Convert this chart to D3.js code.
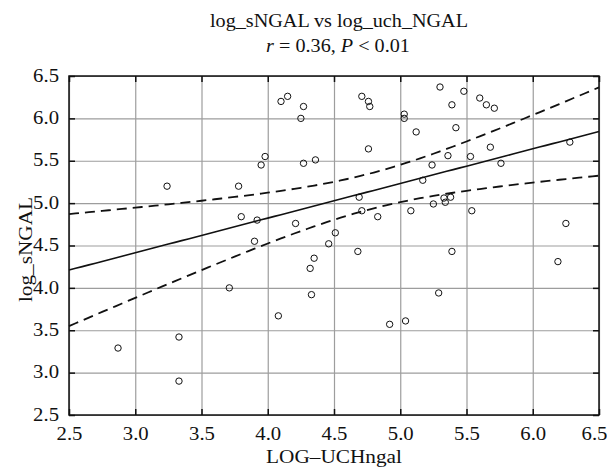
<!DOCTYPE html>
<html>
<head>
<meta charset="utf-8">
<script src="https://cdn.jsdelivr.net/npm/d3@7"></script>
<style>
  body { margin: 0; background: #fff; }
  svg { display: block; }
  text { font-family: "Liberation Serif", "DejaVu Serif", serif; fill: #111; }
</style>
</head>
<body>
<svg id="chart" width="607" height="468"></svg>
<script>
// values
var titleLines = ['log_sNGAL vs log_uch_NGAL', 'r = 0.36, P < 0.01'];
var xLabel = 'LOG\u2013UCHngal';
var yLabel = 'log_sNGAL';
var xTicks = [2.5, 3.0, 3.5, 4.0, 4.5, 5.0, 5.5, 6.0, 6.5];
var yTicks = [2.5, 3.0, 3.5, 4.0, 4.5, 5.0, 5.5, 6.0, 6.5];

// log_uch_NGAL (x) and log_sNGAL (y) of each subject
var xVals = [2.87, 3.24, 3.33, 3.33, 3.71, 3.78, 3.80, 3.90, 3.92, 3.95,
             3.98, 4.08, 4.10, 4.15, 4.21, 4.25, 4.27, 4.27, 4.32, 4.35,
             4.33, 4.36, 4.46, 4.51, 4.68, 4.69, 4.71, 4.71, 4.76, 4.77,
             4.76, 4.83, 4.92, 5.03, 5.03, 5.04, 5.08, 5.12, 5.17, 5.24,
             5.25, 5.29, 5.30, 5.33, 5.34, 5.36, 5.38, 5.39, 5.39, 5.42,
             5.48, 5.53, 5.54, 5.60, 5.65, 5.68, 5.71, 5.76, 6.19, 6.25,
             6.28];
var yVals = [3.29, 5.20, 3.42, 2.90, 4.00, 5.20, 4.84, 4.55, 4.80, 5.45,
             5.55, 3.67, 6.20, 6.26, 4.76, 6.00, 6.14, 5.47, 4.23, 4.35,
             3.92, 5.51, 4.52, 4.65, 4.43, 5.07, 6.26, 4.91, 6.20, 6.14,
             5.64, 4.84, 3.57, 6.05, 6.00, 3.61, 4.91, 5.84, 5.27, 5.45,
             4.99, 3.94, 6.37, 5.06, 5.01, 5.56, 5.07, 6.16, 4.43, 5.89,
             6.32, 5.55, 4.91, 6.24, 6.16, 5.66, 6.12, 5.47, 4.31, 4.76,
             5.72];

// fitted line as drawn in the picture: value at x = 2.5 and at x = 6.5
var fitEnds = [4.21, 5.845];

var svg = d3.select('#chart');
var margin = {top: 76, right: 8, bottom: 53, left: 69};
var width = 607 - margin.left - margin.right;
var height = 468 - margin.top - margin.bottom;

var x = d3.scaleLinear().domain([2.5, 6.5]).range([0, width]);
var y = d3.scaleLinear().domain([2.5, 6.5]).range([height, 0]);

var g = svg.append('g').attr('transform', 'translate(' + margin.left + ',' + margin.top + ')');

// grid
g.append('g')
    .attr('transform', 'translate(0,' + height + ')')
    .call(d3.axisBottom(x).tickValues(xTicks).tickSize(-height).tickFormat(''))
    .call(function(s){ s.select('.domain').remove(); })
    .selectAll('line').attr('stroke', '#9d9d9d').attr('stroke-width', 1.2);
g.append('g')
    .call(d3.axisLeft(y).tickValues(yTicks).tickSize(-width).tickFormat(''))
    .call(function(s){ s.select('.domain').remove(); })
    .selectAll('line').attr('stroke', '#9d9d9d').attr('stroke-width', 1.2);

// short black ticks on the inside of all four sides
function innerTicks(axis, tr) {
    var a = g.append('g').attr('transform', tr)
        .call(axis.tickSize(-6).tickFormat(''));
    a.select('.domain').remove();
    a.selectAll('line').attr('stroke', '#111').attr('stroke-width', 1.5);
}
innerTicks(d3.axisBottom(x).tickValues(xTicks), 'translate(0,' + height + ')');
innerTicks(d3.axisTop(x).tickValues(xTicks), 'translate(0,0)');
innerTicks(d3.axisLeft(y).tickValues(yTicks), 'translate(0,0)');
innerTicks(d3.axisRight(y).tickValues(yTicks), 'translate(' + width + ',0)');

// tick labels
var fmt = d3.format('.1f');
var xAx = g.append('g')
    .attr('transform', 'translate(0,' + height + ')')
    .call(d3.axisBottom(x).tickValues(xTicks).tickSize(0).tickPadding(12).tickFormat(fmt));
var yAx = g.append('g')
    .call(d3.axisLeft(y).tickValues(yTicks).tickSize(0).tickPadding(10).tickFormat(fmt));
[xAx, yAx].forEach(function(a){
    a.select('.domain').remove();
    a.selectAll('text').attr('font-family', null).style('font-size', '18.5px').attr('fill', '#111');
});
yAx.selectAll('text').attr('dy', '0.28em');
// last x label sits against the page edge
xAx.selectAll('text').filter(function(d){ return d === 6.5; }).attr('dx', -5);

// regression line and 95% confidence band
var n = xVals.length;
var mx = d3.mean(xVals);
var sxx = d3.sum(xVals, function(v){ return (v - mx) * (v - mx); });
var slope = (fitEnds[1] - fitEnds[0]) / (6.5 - 2.5);
function fit(v) { return fitEnds[0] + slope * (v - 2.5); }
var sse = d3.sum(xVals, function(v, i){ var e = yVals[i] - fit(v); return e * e; });
var se = Math.sqrt(sse / (n - 2));
var tCrit = 2.0;
function half(v) { return tCrit * se * Math.sqrt(1 / n + (v - mx) * (v - mx) / sxx); }
var xs = d3.range(2.5, 6.5001, 0.05);

var line = d3.line().x(function(d){ return x(d[0]); }).y(function(d){ return y(d[1]); });
g.append('path')
    .attr('d', line(xs.map(function(v){ return [v, fit(v)]; })))
    .attr('fill', 'none').attr('stroke', '#111').attr('stroke-width', 1.6);
[1, -1].forEach(function(sign){
    g.append('path')
        .attr('d', line(xs.map(function(v){ return [v, fit(v) + sign * half(v)]; })))
        .attr('fill', 'none').attr('stroke', '#111').attr('stroke-width', 1.8)
        .attr('stroke-dasharray', '10,6');
});

// points
g.append('g').selectAll('circle')
    .data(xVals)
    .enter().append('circle')
    .attr('cx', function(d){ return x(d); })
    .attr('cy', function(d, i){ return y(yVals[i]); })
    .attr('r', 3.2)
    .attr('fill', 'none')
    .attr('stroke', '#111')
    .attr('stroke-width', 1);

// frame
g.append('rect')
    .attr('width', width).attr('height', height)
    .attr('fill', 'none').attr('stroke', '#111').attr('stroke-width', 1.5);

// titles
svg.append('text').attr('x', 339).attr('y', 27).attr('text-anchor', 'middle')
    .style('font-size', '18px').text(titleLines[0]);
var t2 = svg.append('text').attr('x', 338).attr('y', 52).attr('text-anchor', 'middle')
    .style('font-size', '18px');
t2.append('tspan').attr('font-style', 'italic').text('r');
t2.append('tspan').text(' = 0.36, ');
t2.append('tspan').attr('font-style', 'italic').text('P');
t2.append('tspan').text(' < 0.01');

svg.append('text').attr('x', margin.left + width / 2).attr('y', 463).attr('text-anchor', 'middle')
    .style('font-size', '19px').text(xLabel);
svg.append('text').attr('transform', 'translate(32,' + (margin.top + height / 2 + 4) + ') rotate(-90)')
    .attr('text-anchor', 'middle').style('font-size', '19px').text(yLabel);

// the reference type is a little wider than the font, stretch it
svg.selectAll('text').each(function(){
    var len = this.getComputedTextLength();
    if (len > 0) {
        d3.select(this).attr('textLength', len * 1.12).attr('lengthAdjust', 'spacingAndGlyphs');
    }
});
</script>
</body>
</html>
